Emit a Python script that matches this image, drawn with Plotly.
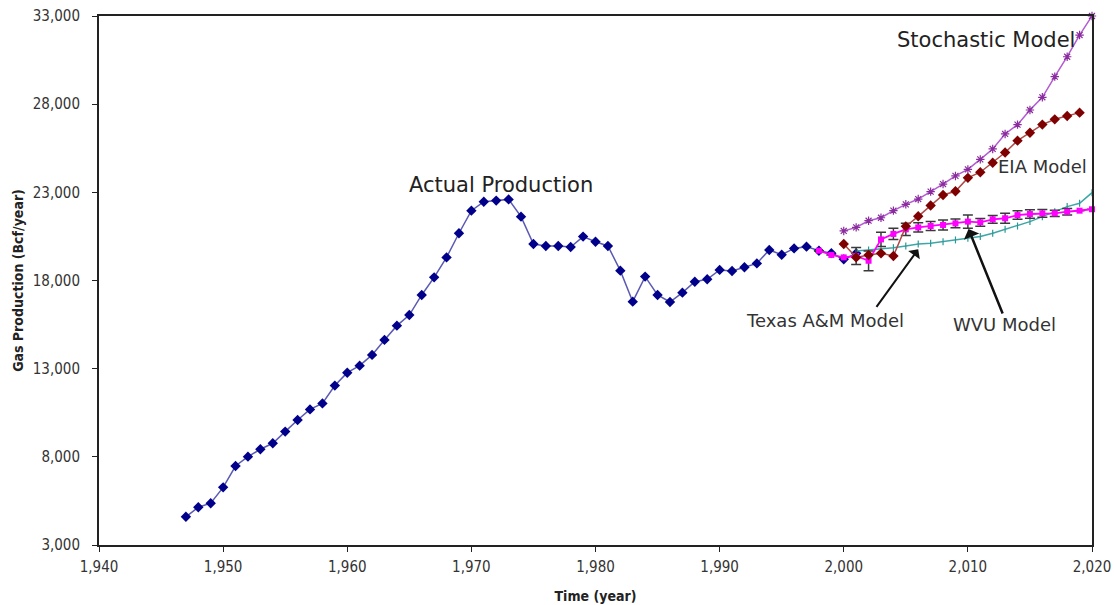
import plotly.graph_objects as go

# Actual U.S. gas production, 1947-2001 (Bcf/year)
actual_years = list(range(1947, 2002))
actual_prod = [
    4600, 5140, 5370, 6270, 7480, 8010, 8430, 8770, 9430, 10090,
    10690, 11030, 12040, 12770, 13170, 13780, 14630, 15440, 16040, 17180,
    18180, 19310, 20680, 21960, 22470, 22530, 22600, 21620, 20070, 19960,
    19960, 19900, 20490, 20200, 19960, 18560, 16800, 18220, 17180, 16780,
    17310, 17930, 18070, 18600, 18540, 18750, 18970, 19730, 19460, 19820,
    19920, 19690, 19550, 19200, 19540,
]

# Stochastic model forecast
stoch_years = list(range(2000, 2021))
stoch_prod = [
    20810, 21010, 21390, 21560, 21960, 22320, 22620, 23040, 23470, 23930,
    24300, 24870, 25460, 26310, 26840, 27670, 28390, 29560, 30690, 31920,
    33000,
]

# EIA forecast
eia_years = list(range(2000, 2020))
eia_prod = [
    20070, 19310, 19450, 19540, 19390, 21070, 21640, 22250, 22850, 23060,
    23820, 24140, 24680, 25260, 25930, 26380, 26840, 27140, 27330, 27520,
]

# Texas A&M forecast
tamu_years = list(range(2001, 2021))
tamu_prod = [
    19670, 19730, 19790, 19860, 19960, 20070, 20110, 20200, 20300, 20390,
    20490, 20680, 20900, 21090, 21340, 21620, 21900, 22190, 22380, 22980,
]

# WVU forecast with uncertainty range
wvu_years = list(range(1998, 2021))
wvu_prod = [
    19690, 19450, 19310, 19390, 19120, 20330, 20640, 20900, 21010, 21090,
    21150, 21240, 21340, 21300, 21470, 21530, 21710, 21770, 21810, 21810,
    21900, 21960, 22040,
]
wvu_err = [
    0, 0, 0, 480, 560, 400, 320, 350, 260, 250,
    280, 250, 380, 220, 220, 280, 240, 240, 220, 180,
    190, 0, 0,
]

x_ticks = list(range(1940, 2021, 10))
y_ticks = list(range(3000, 33001, 5000))

fig = go.Figure()

fig.add_trace(go.Scatter(
    x=actual_years, y=actual_prod, mode="lines+markers", name="Actual Production",
    line=dict(color="#5a5ab4", width=1.5),
    marker=dict(symbol="diamond", size=8, color="#00008b"),
    cliponaxis=False,
))
fig.add_trace(go.Scatter(
    x=tamu_years, y=tamu_prod, mode="lines+markers", name="Texas A&M Model",
    line=dict(color="#3ea6a6", width=1.5),
    marker=dict(symbol="line-ns-open", size=5, color="#2e9696", line=dict(width=1.2, color="#2e9696")),
    cliponaxis=False,
))
fig.add_trace(go.Scatter(
    x=wvu_years, y=wvu_prod, mode="lines+markers", name="WVU Model",
    line=dict(color="#ff00ff", width=1.8),
    marker=dict(symbol="square", size=6, color="#ff00ff"),
    error_y=dict(type="data", array=wvu_err, visible=True, color="#3a3a3a",
                 thickness=1.5, width=5),
    cliponaxis=False,
))
fig.add_trace(go.Scatter(
    x=eia_years, y=eia_prod, mode="lines+markers", name="EIA Model",
    line=dict(color="#b04848", width=1.5),
    marker=dict(symbol="diamond", size=8, color="#7f0000"),
    cliponaxis=False,
))
fig.add_trace(go.Scatter(
    x=stoch_years, y=stoch_prod, mode="lines+markers", name="Stochastic Model",
    line=dict(color="#b45ad2", width=1.5),
    marker=dict(symbol="asterisk-open", size=7, color="#8a2c9e", line=dict(width=1.2, color="#8a2c9e")),
    cliponaxis=False,
))

head_font = dict(family="DejaVu Sans, Arial, sans-serif", color="#222222", size=21)
model_font = dict(family="DejaVu Sans, Arial, sans-serif", color="#333333", size=18)
annotations = [
    dict(x=1972.4, y=23420, text="Actual Production", showarrow=False, font=head_font),
    dict(x=2011.45, y=31640, text="Stochastic Model", showarrow=False, font=head_font),
    dict(x=2016.0, y=24490, text="EIA Model", showarrow=False, font=model_font),
    dict(x=1998.5, y=15760, text="Texas A&M Model", showarrow=False, font=model_font),
    dict(x=2012.95, y=15480, text="WVU Model", showarrow=False, font=model_font),
    # pointer arrows
    dict(x=2006.0, y=19770, ax=2002.55, ay=16420, xref="x", yref="y",
         axref="x", ayref="y", text="", showarrow=True, arrowhead=1,
         arrowsize=1.2, arrowwidth=2, arrowcolor="#111111"),
    dict(x=2010.05, y=20920, ax=2012.85, ay=16040, xref="x", yref="y",
         axref="x", ayref="y", text="", showarrow=True, arrowhead=1,
         arrowsize=1.1, arrowwidth=2.5, arrowcolor="#111111"),
]

tick_font = dict(family="Liberation Sans Narrow, DejaVu Sans Condensed, Arial Narrow, sans-serif",
                 size=15, color="#333333")
title_font = dict(family="Liberation Sans Narrow, DejaVu Sans Condensed, Arial Narrow, sans-serif",
                  size=14, color="#222222", weight="bold")

fig.update_layout(
    width=1114, height=605,
    margin=dict(l=99, r=22, t=16, b=60),
    paper_bgcolor="white", plot_bgcolor="white",
    showlegend=False,
    annotations=annotations,
    xaxis=dict(
        range=[1940, 2020], tickvals=x_ticks, tickformat=",d",
        showgrid=False, zeroline=False, automargin=False,
        showline=True, linecolor="#222222", linewidth=2, mirror=True,
        ticks="outside", ticklen=5, tickcolor="#222222", tickwidth=1,
        tickfont=tick_font, ticklabelstandoff=2,
        title=dict(text="Time (year)", font=title_font, standoff=16),
    ),
    yaxis=dict(
        range=[3000, 33000], tickvals=y_ticks, tickformat=",d",
        showgrid=False, zeroline=False, automargin=False,
        showline=True, linecolor="#222222", linewidth=2, mirror=True,
        ticks="outside", ticklen=5, tickcolor="#222222", tickwidth=1,
        tickfont=tick_font, ticklabelstandoff=9,
        title=dict(text="Gas Production (Bcf/year)", font=title_font, standoff=6),
    ),
)

fig.write_html("out.html")
